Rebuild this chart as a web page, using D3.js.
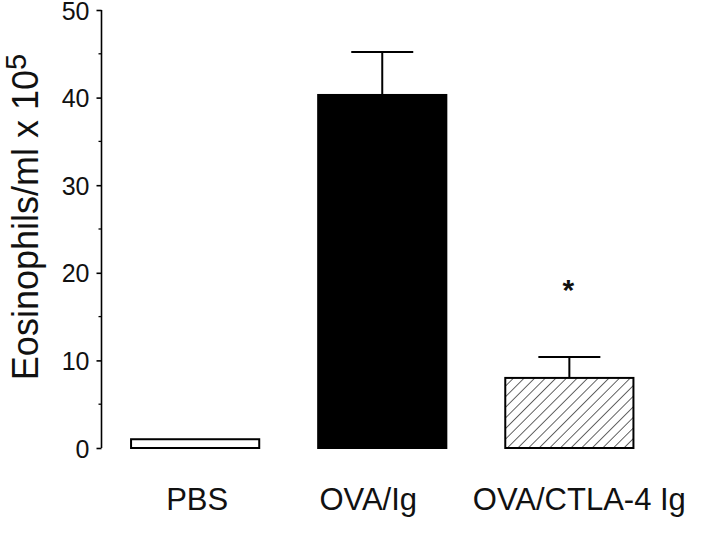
<!DOCTYPE html>
<html>
<head>
<meta charset="utf-8">
<script src="https://cdn.jsdelivr.net/npm/d3@7"></script>
<style>
  html, body { margin: 0; padding: 0; background: #fff; }
  svg { display: block; font-family: "Liberation Sans", Arial, Helvetica, sans-serif; }
</style>
</head>
<body>
<svg id="chart"></svg>
<script>
// data
var groups = ["PBS", "OVA/Ig", "OVA/CTLA-4 Ig"];
var means = [1.0, 40.3, 8.0];
var errors = [0, 4.9, 2.4];
var fills = ["white", "black", "hatch"];
var marks = ["", "", "*"];
var markValues = [0, 0, 18.6];
var yTicks = [0, 10, 20, 30, 40, 50];
var yMinorTicks = [5, 15, 25, 35, 45];

var width = 720, height = 534;
var svg = d3.select("#chart").attr("width", width).attr("height", height);

// hatch pattern for the last bar
var defs = svg.append("defs");
defs.append("pattern")
  .attr("id", "hatch")
  .attr("patternUnits", "userSpaceOnUse")
  .attr("width", 7.5)
  .attr("height", 7.5)
  .attr("patternTransform", "rotate(45)")
  .append("line")
    .attr("x1", 0).attr("y1", 0)
    .attr("x2", 0).attr("y2", 7.5)
    .style("stroke", "#111")
    .style("stroke-width", "1.3px");

var x = d3.scaleBand()
  .domain(groups)
  .range([101.5, 663])
  .paddingInner(0.315)
  .paddingOuter(0.158);

var y = d3.scaleLinear()
  .domain([0, 50])
  .range([448, 10]);

// y axis
var yAxis = d3.axisLeft(y)
  .tickValues(yTicks)
  .tickSize(5)
  .tickPadding(7)
  .tickFormat(d3.format("d"));

var axisG = svg.append("g")
  .attr("transform", "translate(101.5,0)")
  .call(yAxis);
axisG.select(".domain").attr("d", "M0," + y(0) + "V" + y(50)).style("stroke-width", "1.6px");
axisG.selectAll(".tick line").style("stroke-width", "1.6px");
axisG.selectAll(".tick text")
  .attr("dy", "0.36em")
  .style("font-size", "25px")
  .style("fill", "#111")
  .style("font-family", "'Liberation Sans', Arial, sans-serif");

axisG.selectAll(".minor")
  .data(yMinorTicks)
  .enter().append("line")
    .attr("class", "minor")
    .attr("x1", -3).attr("x2", 0)
    .attr("y1", function(d){ return y(d); })
    .attr("y2", function(d){ return y(d); })
    .style("stroke", "#000")
    .style("stroke-width", "1.3px");

// y label
var yLabel = svg.append("text")
  .attr("transform", "translate(38," + 217 + ") rotate(-90)")
  .attr("text-anchor", "middle")
  .style("font-size", "36px")
  .style("fill", "#111");
yLabel.append("tspan").text("Eosinophils/ml x 10");
yLabel.append("tspan").attr("dy", "-12").style("font-size", "29px").text("5");

// bars
var bars = svg.append("g").attr("class", "bars");
bars.selectAll("rect")
  .data(groups)
  .enter().append("rect")
    .attr("x", function(d){ return x(d); })
    .attr("width", x.bandwidth())
    .attr("y", function(d, i){ return y(means[i]); })
    .attr("height", function(d, i){ return y(0) - y(means[i]); })
    .style("fill", function(d, i){ return fills[i] === "hatch" ? "url(#hatch)" : fills[i]; })
    .style("stroke", "#000")
    .style("stroke-width", "2px");

// error bars (upper only)
var err = svg.append("g").attr("class", "errors");
groups.forEach(function(g, i){
  if (!errors[i]) return;
  var cx = x(g) + x.bandwidth() / 2;
  err.append("line")
    .attr("x1", cx).attr("x2", cx)
    .attr("y1", y(means[i])).attr("y2", y(means[i] + errors[i]))
    .style("stroke", "#000").style("stroke-width", "2px");
  err.append("line")
    .attr("x1", cx - 31).attr("x2", cx + 31)
    .attr("y1", y(means[i] + errors[i])).attr("y2", y(means[i] + errors[i]))
    .style("stroke", "#000").style("stroke-width", "2px");
});

// significance marks
svg.append("g").selectAll("text")
  .data(groups)
  .enter().append("text")
    .attr("x", function(d){ return x(d) + x.bandwidth() / 2 - 1; })
    .attr("y", function(d, i){ return y(markValues[i]) + 15; })
    .attr("text-anchor", "middle")
    .style("font-size", "30px")
    .style("font-weight", "bold")
    .style("fill", "#111")
    .text(function(d, i){ return marks[i]; });

// category labels
var labelShift = [2, -14, 10];
svg.append("g").selectAll("text")
  .data(groups)
  .enter().append("text")
    .attr("x", function(d, i){ return x(d) + x.bandwidth() / 2 + labelShift[i]; })
    .attr("y", 510)
    .attr("text-anchor", "middle")
    .style("font-size", "31px")
    .style("fill", "#111")
    .text(function(d){ return d; });
</script>
</body>
</html>
